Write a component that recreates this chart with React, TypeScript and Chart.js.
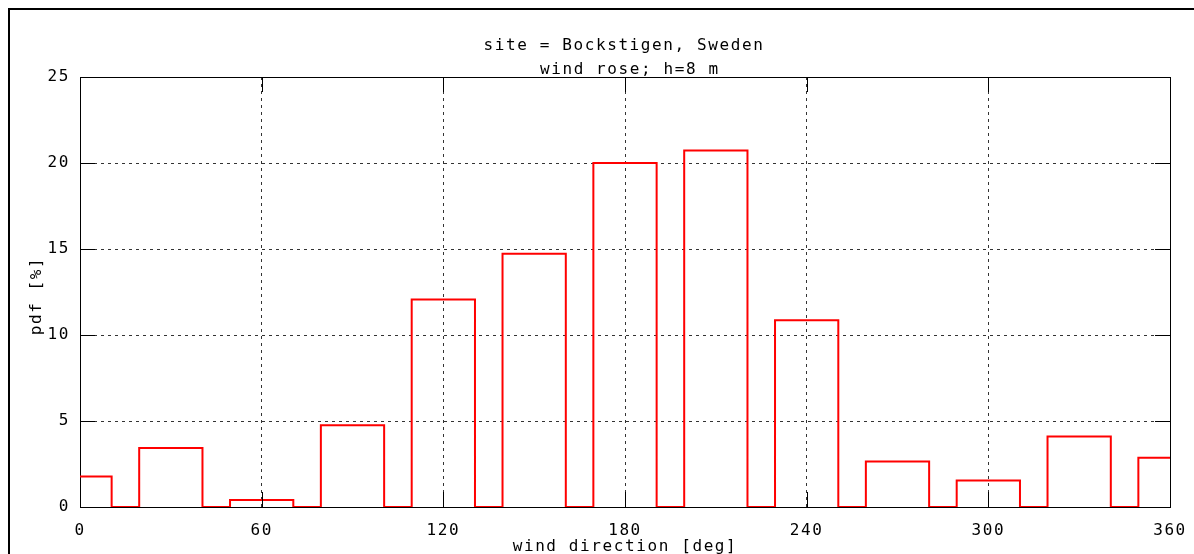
import { useEffect, useRef } from 'react';
import { Chart, registerables } from 'chart.js';

Chart.register(...registerables);

// ---- data ----
const sectorCenters = [0, 30, 60, 90, 120, 150, 180, 210, 240, 270, 300, 330, 360];
const pdfValues = [1.78, 3.43, 0.41, 4.75, 12.07, 14.73, 20.0, 20.72, 10.86, 2.65, 1.54, 4.1, 2.87];
const sectorHalfWidth = 10.45;
const xRange = [0, 360];
const xStep = 60;
const yRange = [0, 25];
const yStep = 5;
const titleLines = ['site = Bockstigen, Sweden', 'wind rose; h=8 m'];
const xAxisTitle = 'wind direction [deg]';
const yAxisTitle = 'pdf [%]';

const FONT_FAMILY = '"DejaVu Sans Mono", monospace';
const FONT_SIZE = 16;
const LETTER_SPACING = '1.6px';

function buildSteps() {
  const pts: { x: number; y: number }[] = [];
  const n = sectorCenters.length;
  for (let i = 0; i < n; i++) {
    const c = sectorCenters[i];
    const v = pdfValues[i];
    const lo = Math.max(xRange[0], c - sectorHalfWidth);
    const hi = Math.min(xRange[1], c + sectorHalfWidth);
    if (i > 0) pts.push({ x: lo, y: 0 });
    pts.push({ x: lo, y: v });
    pts.push({ x: hi, y: v });
    if (i < n - 1) pts.push({ x: hi, y: 0 });
  }
  return pts;
}

const gnuplotLook = {
  id: 'gnuplotLook',
  beforeDraw(chart: any) {
    chart.ctx.letterSpacing = LETTER_SPACING;
  },
  beforeDatasetsDraw(chart: any) {
    const { ctx, chartArea: a } = chart;
    ctx.save();
    ctx.strokeStyle = '#000';
    ctx.lineWidth = 1;
    ctx.setLineDash([]);
    const l = Math.round(a.left) + 0.5;
    const t = Math.round(a.top) + 0.5;
    const r = Math.round(a.right) + 0.5;
    const b = Math.round(a.bottom) + 0.5;
    ctx.strokeRect(l, t, r - l, b - t);
    ctx.restore();
  },
  afterDatasetsDraw(chart: any) {
    const { ctx, chartArea: a, scales } = chart;
    const xs = scales.x;
    const ys = scales.y;
    const tickLen = 15;
    ctx.save();
    ctx.strokeStyle = '#000';
    ctx.lineWidth = 1;
    ctx.setLineDash([]);
    ctx.beginPath();
    for (let v = xRange[0]; v <= xRange[1]; v += xStep) {
      const px = Math.round(xs.getPixelForValue(v)) + 0.5;
      ctx.moveTo(px, a.bottom);
      ctx.lineTo(px, a.bottom - tickLen);
      ctx.moveTo(px, a.top);
      ctx.lineTo(px, a.top + tickLen);
    }
    for (let v = yRange[0]; v <= yRange[1]; v += yStep) {
      const py = Math.round(ys.getPixelForValue(v)) + 0.5;
      ctx.moveTo(a.left, py);
      ctx.lineTo(a.left + tickLen, py);
      ctx.moveTo(a.right, py);
      ctx.lineTo(a.right - tickLen, py);
    }
    ctx.stroke();

    // texts
    ctx.fillStyle = '#000';
    ctx.font = `${FONT_SIZE}px ${FONT_FAMILY}`;
    ctx.letterSpacing = LETTER_SPACING;
    ctx.textAlign = 'center';
    ctx.textBaseline = 'alphabetic';
    const cx = (a.left + a.right) / 2;
    ctx.fillText(titleLines[0], cx - 1, 40);
    ctx.fillText(titleLines[1], cx + 4.8, 64);
    ctx.fillText(xAxisTitle, cx, a.bottom + 44);
    ctx.translate(31, (a.top + a.bottom) / 2 + 4);
    ctx.rotate(-Math.PI / 2);
    ctx.fillText(yAxisTitle, 0, 0);
    ctx.restore();
  },
};

export default function App() {
  const canvasRef = useRef<HTMLCanvasElement | null>(null);

  useEffect(() => {
    const canvas = canvasRef.current;
    if (!canvas) return;
    const font = { family: FONT_FAMILY, size: FONT_SIZE };
    const chart = new Chart(canvas, {
      type: 'scatter',
      data: {
        datasets: [
          {
            data: buildSteps(),
            showLine: true,
            borderColor: '#ff0000',
            backgroundColor: '#ff0000',
            borderWidth: 2,
            pointRadius: 0,
            pointHoverRadius: 0,
            tension: 0,
            fill: false,
          },
        ],
      },
      options: {
        animation: false,
        responsive: true,
        maintainAspectRatio: false,
        events: [],
        layout: { padding: { top: 67, left: 0, right: 24, bottom: 0 } },
        plugins: {
          legend: { display: false },
          tooltip: { enabled: false },
          title: { display: false },
        },
        scales: {
          x: {
            type: 'linear',
            min: xRange[0],
            max: xRange[1],
            ticks: { stepSize: xStep, color: '#000', font, padding: 14, maxRotation: 0 },
            grid: { color: '#333', lineWidth: 1, drawTicks: false },
            border: { display: false, dash: [3, 4] },
            afterFit: (s: any) => {
              s.height = 47;
              s.paddingLeft = 0;
              s.paddingRight = 0;
            },
          },
          y: {
            type: 'linear',
            min: yRange[0],
            max: yRange[1],
            ticks: { stepSize: yStep, color: '#000', font, padding: 10 },
            grid: { color: '#333', lineWidth: 1, drawTicks: false },
            border: { display: false, dash: [3, 4] },
            afterFit: (s: any) => {
              s.width = 70;
              s.paddingTop = 0;
              s.paddingBottom = 0;
            },
          },
        },
      },
      plugins: [gnuplotLook],
    });
    return () => chart.destroy();
  }, []);

  return (
    <div
      style={{
        position: 'fixed',
        left: 8,
        top: 8,
        width: 1186,
        height: 546,
        borderTop: '2px solid #000',
        borderLeft: '2px solid #000',
        boxSizing: 'border-box',
        background: '#fff',
      }}
    >
      <div style={{ position: 'relative', width: 1184, height: 544 }}>
        <canvas ref={canvasRef} />
      </div>
    </div>
  );
}
